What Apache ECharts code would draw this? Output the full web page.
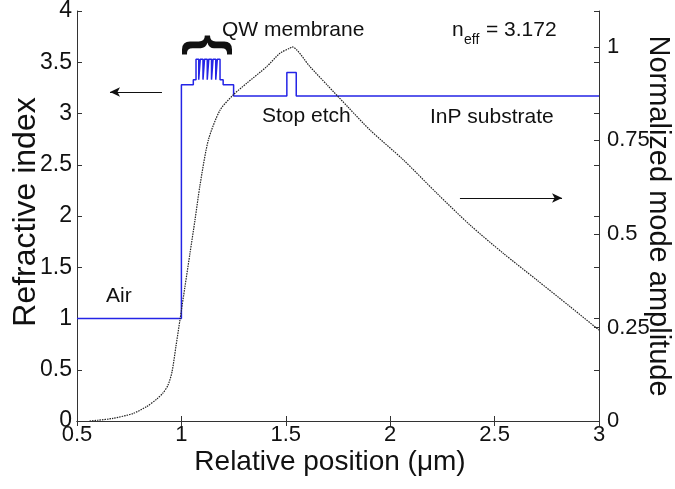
<!DOCTYPE html>
<html>
<head>
<meta charset="utf-8">
<script src="https://cdn.jsdelivr.net/npm/echarts@6/dist/echarts.min.js"></script>
<style>
  html, body { margin: 0; padding: 0; background: #fff; }
  #chart { width: 675px; height: 489px; }
</style>
</head>
<body>
<div id="chart"></div>
<script>
// layer stack: start position (um) and refractive index of each layer
const layerStart = [0.5, 1.0, 1.057, 1.070, 1.083, 1.0904, 1.1034, 1.1108, 1.1238, 1.1312, 1.1442,
  1.1516, 1.1646, 1.172, 1.185, 1.20, 1.25, 1.505, 1.55];
const layerIndex = [1.0, 3.28, 3.33, 3.53, 3.33, 3.53, 3.33, 3.53, 3.33, 3.53, 3.33,
  3.53, 3.33, 3.53, 3.33, 3.28, 3.17, 3.40, 3.17];
const layerEnd = 3.0;

// normalized mode amplitude
const modePos = [0.56, 0.60, 0.672, 0.768, 0.835, 0.883, 0.912, 0.936, 0.955, 0.974, 0.993,
  1.017, 1.041, 1.065, 1.089, 1.129, 1.185, 1.249, 1.313, 1.408, 1.472, 1.52, 1.53,
  1.616, 1.70, 1.80, 1.903, 2.063, 2.223, 2.382, 2.542, 2.702, 2.861, 3.0];
const modeAmp = [0, 0.002, 0.007, 0.020, 0.039, 0.059, 0.075, 0.096, 0.131, 0.200, 0.270,
  0.359, 0.448, 0.537, 0.630, 0.751, 0.831, 0.872, 0.903, 0.947, 0.983, 0.997, 1.0,
  0.947, 0.897, 0.838, 0.778, 0.698, 0.609, 0.524, 0.448, 0.377, 0.306, 0.243];

const FONT = "Liberation Sans, Arial, sans-serif";

// 拼出台阶形折射率曲线
let indexData = [];
for (let i = 0; i < layerStart.length; i++) {
  let x1 = i < layerStart.length - 1 ? layerStart[i + 1] : layerEnd;
  indexData.push([layerStart[i], layerIndex[i]]);
  indexData.push([x1, layerIndex[i]]);
}
let modeData = modePos.map((x, i) => [x, modeAmp[i]]);

let chart = echarts.init(document.getElementById("chart"));

let tickStyle = { inside: true, length: 5, lineStyle: { color: "#333", width: 1 } };
let lineStyle = { show: true, lineStyle: { color: "#333", width: 1 } };

let option = {
  animation: false,
  grid: { left: 77, right: 76, top: 11, bottom: 68, outerBoundsMode: "none", containLabel: false },
  xAxis: [
    {
      type: "value",
      min: 0.5,
      max: 3,
      interval: 0.5,
      name: "Relative position (\u03bcm)",
      nameLocation: "middle",
      nameGap: 27,
      nameMoveOverlap: false,
      nameTextStyle: { fontSize: 28, fontFamily: FONT, color: "#111", padding: [0, 16, 0, 0] },
      axisLine: lineStyle,
      axisTick: tickStyle,
      splitLine: { show: false },
      axisLabel: { fontSize: 22, fontFamily: FONT, color: "#111", margin: 3 }
    },
    {
      type: "value",
      position: "top",
      min: 0.5,
      max: 3,
      interval: 0.5,
      axisLine: lineStyle,
      axisTick: tickStyle,
      splitLine: { show: false },
      axisLabel: { show: false }
    }
  ],
  yAxis: [
    {
      type: "value",
      min: 0,
      max: 4,
      interval: 0.5,
      name: "Refractive index",
      nameLocation: "middle",
      nameRotate: 90,
      nameGap: 35,
      nameMoveOverlap: false,
      nameTextStyle: { fontSize: 32, fontFamily: FONT, color: "#111", padding: [0, 0, 0, 8] },
      axisLine: lineStyle,
      axisTick: tickStyle,
      splitLine: { show: false },
      axisLabel: { fontSize: 23, fontFamily: FONT, color: "#111", margin: 5 }
    },
    {
      type: "value",
      position: "right",
      min: 0,
      max: 1.096,
      interval: 0.25,
      name: "Normalized mode amplitude",
      nameLocation: "middle",
      nameRotate: -90,
      nameGap: 44,
      nameMoveOverlap: false,
      nameTextStyle: { fontSize: 29, fontFamily: FONT, color: "#111" },
      axisLine: lineStyle,
      axisTick: tickStyle,
      splitLine: { show: false },
      axisLabel: {
        fontSize: 22,
        fontFamily: FONT,
        color: "#111",
        margin: 8,
        formatter: v => (Math.abs(v * 4 - Math.round(v * 4)) < 1e-6 ? String(v) : "")
      }
    },
    {
      // 右侧也画出左轴的刻度
      type: "value",
      position: "right",
      min: 0,
      max: 4,
      interval: 0.5,
      axisLine: { show: false },
      axisTick: tickStyle,
      splitLine: { show: false },
      axisLabel: { show: false }
    }
  ],
  series: [
    {
      name: "index",
      type: "line",
      xAxisIndex: 0,
      yAxisIndex: 0,
      data: indexData,
      symbol: "none",
      lineStyle: { color: "#2424e6", width: 1.5 },
      markLine: {
        silent: true,
        symbol: ["none", "arrow"],
        symbolSize: [7, 10],
        label: { show: false },
        lineStyle: { color: "#111", width: 1, type: "solid" },
        data: [
          [{ coord: [0.907, 3.21] }, { coord: [0.658, 3.21] }],
          [{ coord: [2.334, 2.176] }, { coord: [2.823, 2.176] }]
        ]
      }
    },
    {
      name: "mode",
      type: "line",
      xAxisIndex: 0,
      yAxisIndex: 1,
      data: modeData,
      symbol: "none",
      smooth: 0.25,
      lineStyle: { color: "#222", width: 1.2, type: [1.5, 1] }
    }
  ],
  graphic: [
    {
      type: "text",
      x: 208,
      y: 45,
      rotation: -Math.PI / 2,
      style: { text: "{", font: "bold 54px " + FONT, fill: "#111", textAlign: "center", textVerticalAlign: "middle" }
    },
    {
      type: "text",
      x: 222,
      y: 30,
      style: { text: "QW membrane", font: "21px " + FONT, fill: "#111", textVerticalAlign: "middle" }
    },
    {
      type: "text",
      x: 452,
      y: 30,
      style: { text: "n", font: "21px " + FONT, fill: "#111", textVerticalAlign: "middle" }
    },
    {
      type: "text",
      x: 464,
      y: 40,
      style: { text: "eff", font: "14px " + FONT, fill: "#111", textVerticalAlign: "middle" }
    },
    {
      type: "text",
      x: 486,
      y: 30,
      style: { text: "= 3.172", font: "21px " + FONT, fill: "#111", textVerticalAlign: "middle" }
    },
    {
      type: "text",
      x: 106,
      y: 296,
      style: { text: "Air", font: "21px " + FONT, fill: "#111", textVerticalAlign: "middle" }
    },
    {
      type: "text",
      x: 262,
      y: 116,
      style: { text: "Stop etch", font: "21px " + FONT, fill: "#111", textVerticalAlign: "middle" }
    },
    {
      type: "text",
      x: 430,
      y: 117,
      style: { text: "InP substrate", font: "21px " + FONT, fill: "#111", textVerticalAlign: "middle" }
    }
  ]
};

chart.setOption(option);
</script>
</body>
</html>
